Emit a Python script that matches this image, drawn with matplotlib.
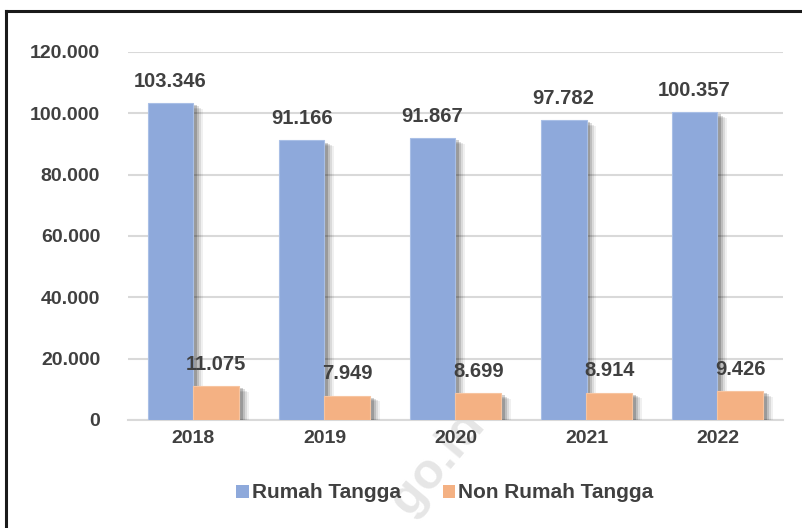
import matplotlib
matplotlib.use("Agg")
import matplotlib.pyplot as plt
import matplotlib.patheffects as pe
from matplotlib.lines import Line2D
import numpy as np

years = ["2018", "2019", "2020", "2021", "2022"]
rumah_tangga = [103346, 91166, 91867, 97782, 100357]
non_rumah_tangga = [11075, 7949, 8699, 8914, 9426]
rt_labels = ["103.346", "91.166", "91.867", "97.782", "100.357"]
nrt_labels = ["11.075", "7.949", "8.699", "8.914", "9.426"]
yticks = [0, 20000, 40000, 60000, 80000, 100000, 120000]
ytick_labels = ["0", "20.000", "40.000", "60.000", "80.000", "100.000", "120.000"]

plt.rcParams['font.family'] = ['Liberation Sans', 'DejaVu Sans']
TXT = "#404040"
BLUE = "#8EA9DB"
ORANGE = "#F4B183"

W, H = 803, 528
fig = plt.figure(figsize=(W/100, H/100), dpi=100)

# watermark behind everything
fig.text(438/W, (H-462)/H, "go.id", rotation=50, fontsize=36, fontweight="bold",
         color="#E6E6E6", ha="center", va="center", zorder=-5)

ax = fig.add_axes([128/W, (H-420)/H, (783-128)/W, (420-52)/H])
ax.patch.set_alpha(0)

x = np.arange(len(years))
bw = 0.35

shadow = [pe.SimplePatchShadow(offset=(o, -o*0.6), shadow_rgbFace='black', alpha=a)
          for o, a in [(7, 0.06), (5.5, 0.09), (4, 0.13), (2.5, 0.18)]] + [pe.Normal()]

b1 = ax.bar(x - bw/2, rumah_tangga, bw, color=BLUE, edgecolor="#A9BFE6", linewidth=0.8,
            zorder=3, label="Rumah Tangga")
b2 = ax.bar(x + bw/2, non_rumah_tangga, bw, color=ORANGE, edgecolor="#F7C4A0", linewidth=0.8,
            zorder=3, label="Non Rumah Tangga")
for b in list(b1) + list(b2):
    b.set_path_effects(shadow)

for xi, v, lab in zip(x, rumah_tangga, rt_labels):
    ax.annotate(lab, (xi - bw/2, v), xytext=(0, 9), textcoords="offset points",
                ha="center", va="bottom", fontsize=14.5, fontweight="bold", color=TXT, zorder=5)
for xi, v, lab in zip(x, non_rumah_tangga, nrt_labels):
    ax.annotate(lab, (xi + bw/2, v), xytext=(0, 9), textcoords="offset points",
                ha="center", va="bottom", fontsize=14.5, fontweight="bold", color=TXT, zorder=5)

ax.set_xlim(-0.5, len(years) - 0.5)
ax.set_ylim(0, 120000)
ax.set_yticks(yticks)
ax.set_yticklabels(ytick_labels, fontsize=14, fontweight="bold", color=TXT)
ax.set_xticks(x)
ax.set_xticklabels(years, fontsize=14, fontweight="bold", color=TXT)
ax.tick_params(axis="both", length=0, pad=7)
ax.tick_params(axis="y", pad=20)
ax.grid(axis="y", color="#D9D9D9", linewidth=1.5, zorder=0)
ax.set_axisbelow(True)
for s in ["top", "right", "left"]:
    ax.spines[s].set_visible(False)
ax.spines["bottom"].set_color("#D9D9D9")
ax.spines["bottom"].set_linewidth(1.5)

leg = fig.legend(handles=[b1, b2], loc="center", bbox_to_anchor=(445/W, (H-493)/H),
                 ncol=2, frameon=False, handlelength=0.6, handleheight=0.6,
                 handletextpad=0.15, columnspacing=2.0,
                 prop={"size": 15, "weight": "bold"})
for t in leg.get_texts():
    t.set_color(TXT)
for h in leg.legend_handles:
    h.set_path_effects([pe.Normal()])
    h.set_linewidth(0)

# border
fig.add_artist(Line2D([6/W, 1.0], [(H-10.5)/H, (H-10.5)/H], color="#1A1A1A", linewidth=2.2))
fig.add_artist(Line2D([6.5/W, 6.5/W], [0, (H-10.5)/H], color="#1A1A1A", linewidth=2.2))

fig.savefig("out.png", dpi=100)
